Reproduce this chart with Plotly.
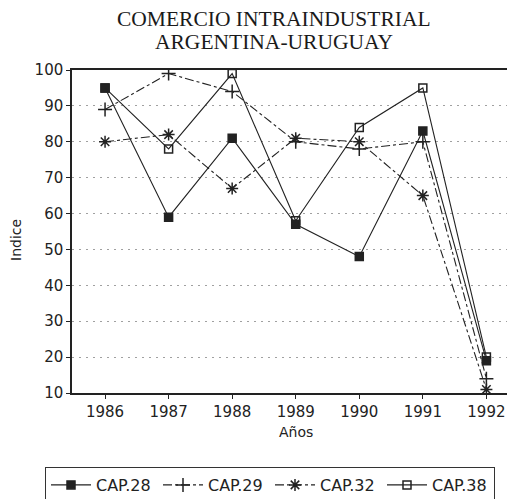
import plotly.graph_objects as go

years = [1986, 1987, 1988, 1989, 1990, 1991, 1992]
cap28 = [95, 59, 81, 57, 48, 83, 19]
cap29 = [89, 99, 94, 80, 78, 80, 14]
cap32 = [80, 82, 67, 81, 80, 65, 11]
cap38 = [95, 78, 99, 58, 84, 95, 20]
y_ticks = [10, 20, 30, 40, 50, 60, 70, 80, 90, 100]
title_lines = ["COMERCIO INTRAINDUSTRIAL", "ARGENTINA-URUGUAY"]

series = [
    ("CAP.28", cap28, "square", "solid", 8),
    ("CAP.29", cap29, "cross-thin-open", "dashdot", 10),
    ("CAP.32", cap32, "asterisk-open", "dashdot", 10),
    ("CAP.38", cap38, "square-open", "solid", 8),
]

fig = go.Figure()
for name, vals, sym, dash, size in series:
    fig.add_trace(go.Scatter(
        x=years, y=vals, name=name, mode="lines+markers",
        line=dict(color="#222222", width=1.1, dash=dash),
        marker=dict(symbol=sym, size=size, color="#222222",
                    line=dict(color="#222222", width=1.5)),
    ))

font_sans = "DejaVu Sans"
OFF = 8  # default page body margin
W, H = 515 - OFF, 499 - OFF
# page-coordinate plot box: left 72, top 70, right 515, bottom 393
L, T = 72 - OFF, 70 - OFF
R, B = 0, H - (393 - OFF)
pw, ph = W - L - R, H - T - B

def px_x(x):
    return (x - OFF - L) / pw

def px_y(y):
    return (H - B - (y - OFF)) / ph

annotations = [
    dict(text=title_lines[0], x=px_x(274), y=px_y(19), xref="paper", yref="paper",
         xanchor="center", yanchor="middle", showarrow=False,
         font=dict(family="Liberation Serif", size=21.5, color="#1a1a1a")),
    dict(text=title_lines[1], x=px_x(274), y=px_y(42), xref="paper", yref="paper",
         xanchor="center", yanchor="middle", showarrow=False,
         font=dict(family="Liberation Serif", size=21.5, color="#1a1a1a")),
    dict(text="Años", x=px_x(296), y=px_y(432), xref="paper", yref="paper",
         xanchor="center", yanchor="middle", showarrow=False,
         font=dict(family=font_sans, size=14, color="#222222")),
    dict(text="Indice", x=px_x(16), y=px_y(240), xref="paper", yref="paper",
         xanchor="center", yanchor="middle", showarrow=False, textangle=-90,
         font=dict(family=font_sans, size=14, color="#222222")),
]

fig.update_layout(
    width=W, height=H,
    margin=dict(l=L, r=R, t=T, b=B, autoexpand=False),
    paper_bgcolor="white", plot_bgcolor="white",
    annotations=annotations,
    showlegend=True,
    legend=dict(
        orientation="h", x=px_x(45), xanchor="left", y=px_y(467), yanchor="top",
        bordercolor="#333333", borderwidth=1, bgcolor="white",
        font=dict(family=font_sans, size=16, color="#222222"),
        entrywidth=57, itemwidth=40,
    ),
    xaxis=dict(
        range=[1985.48, 1992.45], tickvals=years, automargin=False,
        ticks="outside", ticklen=4, tickcolor="#222",
        showline=True, linecolor="#222222", linewidth=1.5, mirror=True,
        showgrid=False, zeroline=False,
        tickfont=dict(family=font_sans, size=15, color="#222222"),
    ),
    yaxis=dict(
        range=[10, 100], tickvals=y_ticks, automargin=False,
        ticks="outside", ticklen=4, tickcolor="#222",
        showline=True, linecolor="#222222", linewidth=1.5,
        showgrid=True, gridcolor="#a0a0a0", griddash="2px,5px", gridwidth=1,
        zeroline=False,
        tickfont=dict(family=font_sans, size=15, color="#222222"),
    ),
)

fig.write_html("out.html")
